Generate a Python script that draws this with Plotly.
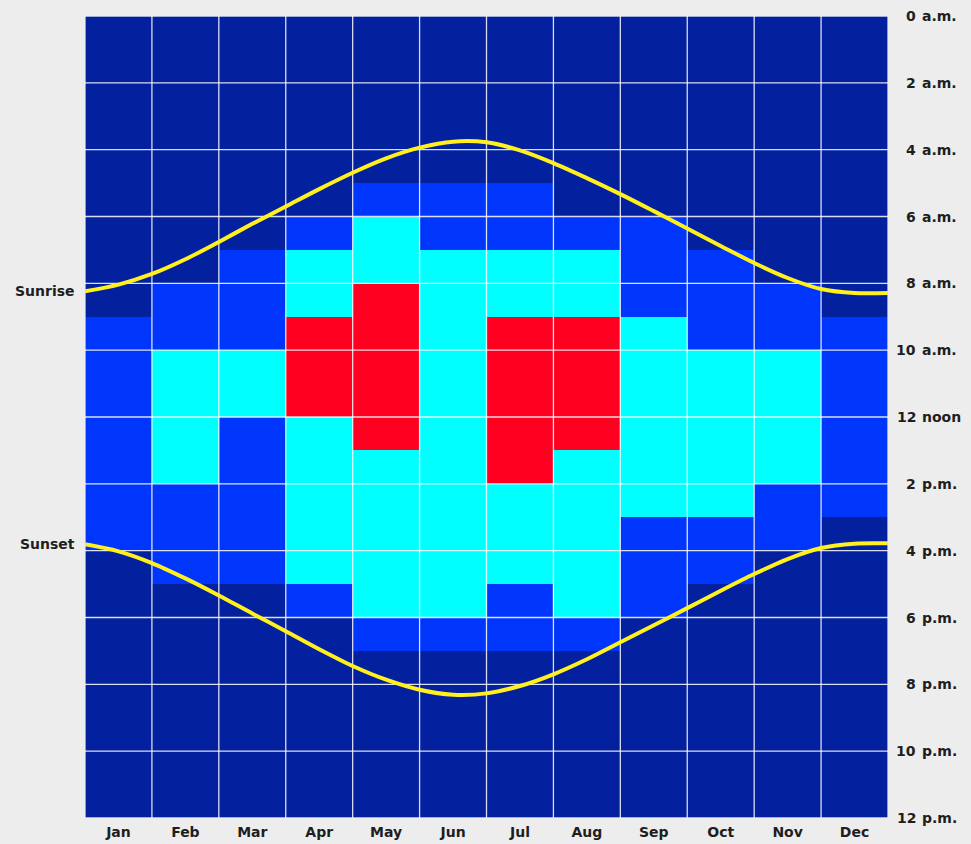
import plotly.graph_objects as go

# Month columns and hour tick labels (every two hours, drawn on the right)
months = ["Jan", "Feb", "Mar", "Apr", "May", "Jun",
          "Jul", "Aug", "Sep", "Oct", "Nov", "Dec"]
hour_ticks = [0, 2, 4, 6, 8, 10, 12, 14, 16, 18, 20, 22, 24]
hour_labels = ["0 a.m.", "2 a.m.", "4 a.m.", "6 a.m.", "8 a.m.", "10 a.m.",
               "12 noon", "2 p.m.", "4 p.m.", "6 p.m.", "8 p.m.", "10 p.m.",
               "12 p.m."]

# Intensity level for each hour of the day (0 = night, 1 = low,
# 2 = moderate, 3 = high), one list of 24 hourly values per month
levels = {
    "Jan": [0, 0, 0, 0, 0, 0, 0, 0, 0, 1, 1, 1, 1, 1, 1, 1, 0, 0, 0, 0, 0, 0, 0, 0],
    "Feb": [0, 0, 0, 0, 0, 0, 0, 0, 1, 1, 2, 2, 2, 2, 1, 1, 1, 0, 0, 0, 0, 0, 0, 0],
    "Mar": [0, 0, 0, 0, 0, 0, 0, 1, 1, 1, 2, 2, 1, 1, 1, 1, 1, 0, 0, 0, 0, 0, 0, 0],
    "Apr": [0, 0, 0, 0, 0, 0, 1, 2, 2, 3, 3, 3, 2, 2, 2, 2, 2, 1, 0, 0, 0, 0, 0, 0],
    "May": [0, 0, 0, 0, 0, 1, 2, 2, 3, 3, 3, 3, 3, 2, 2, 2, 2, 2, 1, 0, 0, 0, 0, 0],
    "Jun": [0, 0, 0, 0, 0, 1, 1, 2, 2, 2, 2, 2, 2, 2, 2, 2, 2, 2, 1, 0, 0, 0, 0, 0],
    "Jul": [0, 0, 0, 0, 0, 1, 1, 2, 2, 3, 3, 3, 3, 3, 2, 2, 2, 1, 1, 0, 0, 0, 0, 0],
    "Aug": [0, 0, 0, 0, 0, 0, 1, 2, 2, 3, 3, 3, 3, 2, 2, 2, 2, 2, 1, 0, 0, 0, 0, 0],
    "Sep": [0, 0, 0, 0, 0, 0, 1, 1, 1, 2, 2, 2, 2, 2, 2, 1, 1, 1, 0, 0, 0, 0, 0, 0],
    "Oct": [0, 0, 0, 0, 0, 0, 0, 1, 1, 1, 2, 2, 2, 2, 2, 1, 1, 0, 0, 0, 0, 0, 0, 0],
    "Nov": [0, 0, 0, 0, 0, 0, 0, 0, 1, 1, 2, 2, 2, 2, 1, 1, 0, 0, 0, 0, 0, 0, 0, 0],
    "Dec": [0, 0, 0, 0, 0, 0, 0, 0, 0, 1, 1, 1, 1, 1, 1, 0, 0, 0, 0, 0, 0, 0, 0, 0],
}

# Sunrise / sunset times (decimal hours) sampled every half month
sun_month = [0, 0.5, 1, 1.5, 2, 2.5, 3, 3.5, 4, 4.5, 5, 5.5, 6,
             6.5, 7, 7.5, 8, 8.5, 9, 9.5, 10, 10.5, 11, 11.5, 12]
sunrise = [8.24, 8.04, 7.72, 7.28, 6.76, 6.22, 5.70, 5.18, 4.69, 4.26, 3.94, 3.76, 3.78,
           4.02, 4.40, 4.85, 5.33, 5.84, 6.36, 6.88, 7.39, 7.84, 8.17, 8.29, 8.29]
sunset = [15.81, 16.02, 16.37, 16.83, 17.34, 17.88, 18.41, 18.95, 19.45, 19.86, 20.16, 20.31, 20.27,
          20.05, 19.70, 19.25, 18.74, 18.23, 17.72, 17.20, 16.70, 16.25, 15.92, 15.79, 15.78]

NAVY = "#03209E"
BLUE = "#0036FC"
CYAN = "#00FFFF"
RED = "#FF0020"
SUN = "#FFF01E"
BG = "#EDEDED"
TEXT = "#1E1E1E"
FONT = "DejaVu Sans"

# hours as rows, months as columns
z = [[levels[m][h] for m in months] for h in range(24)]

fig = go.Figure()
fig.add_trace(go.Heatmap(
    z=z,
    x=[i + 0.5 for i in range(len(months))],
    y=[h + 0.5 for h in range(24)],
    zmin=-0.5, zmax=3.5,
    colorscale=[[0.0, NAVY], [0.25, NAVY], [0.25, BLUE], [0.5, BLUE],
                [0.5, CYAN], [0.75, CYAN], [0.75, RED], [1.0, RED]],
    showscale=False,
    hoverinfo="skip",
))

# white grid drawn over the cells: month boundaries and every two hours
gx, gy = [], []
for m in range(len(months) + 1):
    gx += [m, m, None]
    gy += [0, 24, None]
for h in hour_ticks:
    gx += [0, len(months), None]
    gy += [h, h, None]
fig.add_trace(go.Scatter(
    x=gx, y=gy, mode="lines",
    line=dict(color="rgba(255,255,255,0.85)", width=1.3),
    hoverinfo="skip", showlegend=False,
))

for series in (sunrise, sunset):
    fig.add_trace(go.Scatter(
        x=sun_month, y=series, mode="lines",
        line=dict(color=SUN, width=4, shape="spline", smoothing=0.9),
        hoverinfo="skip", showlegend=False,
    ))

label_font = dict(family=FONT, size=14, color=TEXT, weight="bold")

# hour labels on the right: number right-aligned, suffix left-aligned
annotations = []
for h, lab in zip(hour_ticks, hour_labels):
    num, suffix = lab.split(" ", 1)
    annotations.append(dict(
        x=1, xref="paper", y=h, yref="y", text=num, showarrow=False,
        xanchor="right", yanchor="middle", xshift=30, font=label_font))
    annotations.append(dict(
        x=1, xref="paper", y=h, yref="y", text=suffix, showarrow=False,
        xanchor="left", yanchor="middle", xshift=32, font=label_font))

for name, series in (("Sunrise", sunrise), ("Sunset", sunset)):
    annotations.append(dict(
        x=0, xref="paper", y=series[0], yref="y", text=name, showarrow=False,
        xanchor="right", yanchor="middle", xshift=-8, font=label_font))

fig.update_layout(
    width=971, height=844,
    margin=dict(l=85, r=83, t=16, b=26, pad=0),
    paper_bgcolor=BG, plot_bgcolor=BG,
    showlegend=False,
    annotations=annotations,
    xaxis=dict(
        range=[0, len(months)], showgrid=False, zeroline=False,
        tickmode="array", tickvals=[i + 0.5 for i in range(len(months))],
        ticktext=months, ticks="outside", ticklen=1, tickcolor=BG,
        tickfont=label_font, automargin=False, fixedrange=True,
    ),
    yaxis=dict(
        range=[24, 0], showgrid=False, zeroline=False,
        showticklabels=False, automargin=False, fixedrange=True,
    ),
)

fig.write_html("out.html")
